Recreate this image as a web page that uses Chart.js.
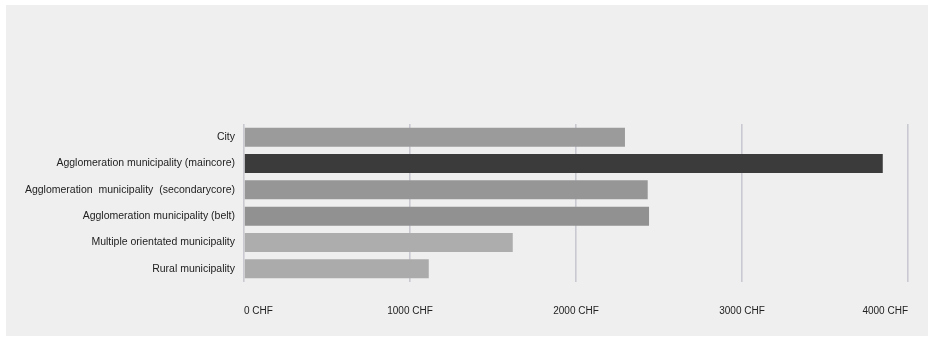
<!DOCTYPE html>
<html>
<head>
<meta charset="utf-8">
<script src="https://cdn.jsdelivr.net/npm/chart.js@4/dist/chart.umd.min.js"></script>
<style>
  html, body { margin: 0; padding: 0; background: #ffffff; }
  #panel {
    position: absolute; left: 6px; top: 5px;
    width: 922px; height: 331px;
    background: #efefef;
  }
</style>
</head>
<body>
<div id="panel"><canvas id="costChart" width="922" height="331"></canvas></div>
<script>
// municipality types and average cost per type (CHF)
const categories = [
    'City',
    'Agglomeration municipality (maincore)',
    'Agglomeration  municipality  (secondarycore)',
    'Agglomeration municipality (belt)',
    'Multiple orientated municipality',
    'Rural municipality'
];
const costs = [2295, 3848, 2432, 2440, 1619, 1113];
const barColors = ['#9b9b9b', '#3b3b3b', '#969696', '#919191', '#adadad', '#ababab'];
const xTicks = [0, 1000, 2000, 3000, 4000];

const ctx = document.getElementById('costChart').getContext('2d');
new Chart(ctx, {
    type: 'bar',
    data: {
        labels: categories,
        datasets: [{
            data: costs,
            backgroundColor: barColors,
            borderWidth: 0,
            barPercentage: 0.72,
            categoryPercentage: 1
        }]
    },
    options: {
        indexAxis: 'y',
        responsive: false,
        animation: false,
        layout: { padding: { top: 119, right: 20, bottom: 0, left: 0 } },
        plugins: { legend: { display: false }, tooltip: { enabled: false } },
        scales: {
            x: {
                min: 0,
                max: 4000,
                afterBuildTicks: (scale) => {
                    scale.ticks = xTicks.map(v => ({ value: v }));
                },
                // fixed axis height; labels sit inside the plot width so no side padding
                afterFit: (scale) => {
                    scale.height = 54;
                    scale.paddingLeft = 0;
                    scale.paddingRight = 0;
                },
                border: { display: false },
                grid: { color: '#c9c9d1', lineWidth: 1.6, drawTicks: false },
                ticks: {
                    align: 'inner',
                    maxRotation: 0,
                    minRotation: 0,
                    padding: 23,
                    color: '#222',
                    font: { family: 'Liberation Sans', size: 10 },
                    callback: (v) => v + ' CHF'
                }
            },
            y: {
                afterFit: (scale) => { scale.width = 238; },
                border: { display: false },
                grid: { display: false, drawTicks: false },
                ticks: {
                    padding: 9,
                    color: '#222',
                    font: { family: 'Liberation Sans', size: 10.5 }
                }
            }
        }
    }
});
</script>
</body>
</html>
